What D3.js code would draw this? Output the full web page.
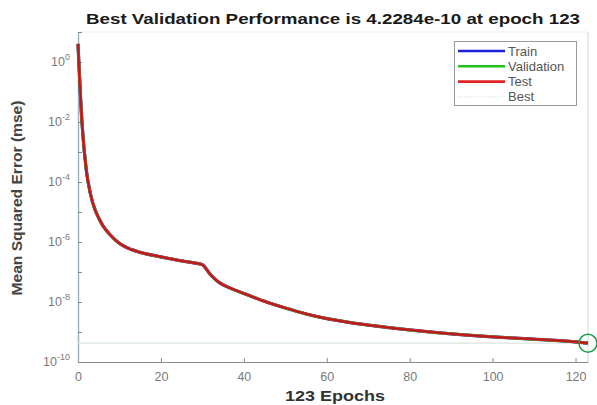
<!DOCTYPE html>
<html>
<head>
<meta charset="utf-8">
<script src="https://cdn.jsdelivr.net/npm/d3@7"></script>
<style>
  body { margin: 0; background: #fff; }
  svg { display: block; font-family: "Liberation Sans", Arial, sans-serif; }
</style>
</head>
<body>
<svg id="chart" width="597" height="405"></svg>
<script>
// Training record: mean squared error per epoch (sampled epochs)
const epochs   = [0, 1, 2, 3, 4, 5, 6, 8, 10, 12, 15, 20, 25, 29, 30, 32, 34, 37, 41, 45, 50, 55, 60, 70, 80, 90, 100, 110, 120, 123];
const trainMse = [4.0, 8e-3, 2.5e-4, 4e-5, 1.3e-5, 6.3e-6, 3.5e-6, 1.6e-6, 9e-7, 6.3e-7, 4.5e-7, 3.2e-7, 2.35e-7, 1.9e-7, 1.75e-7, 8e-8, 4.5e-8, 2.8e-8, 1.7e-8, 1.05e-8, 6.3e-9, 4.0e-9, 2.8e-9, 1.7e-9, 1.17e-9, 8.7e-10, 6.9e-10, 5.75e-10, 4.7e-10, 4.23e-10];
const valMse   = [4.0, 8e-3, 2.5e-4, 4e-5, 1.3e-5, 6.3e-6, 3.5e-6, 1.6e-6, 9e-7, 6.3e-7, 4.5e-7, 3.2e-7, 2.35e-7, 1.9e-7, 1.75e-7, 8e-8, 4.5e-8, 2.8e-8, 1.7e-8, 1.05e-8, 6.3e-9, 4.0e-9, 2.8e-9, 1.7e-9, 1.17e-9, 8.7e-10, 6.9e-10, 5.75e-10, 4.7e-10, 4.2284e-10];
const testMse  = [4.0, 8e-3, 2.5e-4, 4e-5, 1.3e-5, 6.3e-6, 3.5e-6, 1.6e-6, 9e-7, 6.3e-7, 4.5e-7, 3.2e-7, 2.35e-7, 1.9e-7, 1.75e-7, 8e-8, 4.5e-8, 2.8e-8, 1.7e-8, 1.05e-8, 6.3e-9, 4.0e-9, 2.8e-9, 1.7e-9, 1.17e-9, 8.7e-10, 6.9e-10, 5.75e-10, 4.7e-10, 4.23e-10];

const bestEpoch = 123;
const bestPerf = 4.2284e-10;

const xTicks = [0, 20, 40, 60, 80, 100, 120];
const yTickExps = [0, -2, -4, -6, -8, -10];
const yMinorExps = [1, 0, -1, -2, -3, -4, -5, -6, -7, -8, -9, -10];

const legendLabels = ["Train", "Validation", "Test", "Best"];
const legendColors = ["#1f1fe0", "#1fc21f", "#e02424", "#cfe8cf"];

const titleText = "Best Validation Performance is 4.2284e-10 at epoch 123";
const xLabelText = "123 Epochs";
const yLabelText = "Mean Squared Error  (mse)";

const svg = d3.select("#chart");
const m = { left: 78, right: 588, top: 32, bottom: 362 };

const x = d3.scaleLinear().domain([0, 123]).range([m.left, m.right]);
const y = d3.scaleLog().domain([1e-10, 10]).range([m.bottom, m.top]);

const axisColor = "#8a8a8a";
const tickTextColor = "#7a7a7a";

// axes box
svg.append("line").attr("x1", m.left).attr("x2", m.right).attr("y1", m.top).attr("y2", m.top)
  .attr("stroke", "#ececec").attr("stroke-width", 1);
svg.append("line").attr("x1", m.right).attr("x2", m.right).attr("y1", m.top).attr("y2", m.bottom)
  .attr("stroke", "#dcdcdc").attr("stroke-width", 1);

// x axis (ticks point inward)
const xAxis = d3.axisBottom(x).tickValues(xTicks).tickSizeInner(-4).tickSizeOuter(0).tickPadding(10);
const gx = svg.append("g").attr("transform", `translate(0,${m.bottom})`).call(xAxis);
gx.select(".domain").attr("stroke", axisColor).attr("stroke-width", 1.2);
gx.selectAll(".tick line").attr("stroke", axisColor);
gx.selectAll(".tick text").attr("fill", tickTextColor).attr("font-size", 12.5)
  .attr("font-family", "Liberation Sans, Arial, sans-serif");

// y axis: major decade labels, minor ticks every decade
const yAxis = d3.axisLeft(y).tickValues(yMinorExps.map(e => Math.pow(10, e)))
  .tickSizeInner(-4).tickSizeOuter(0).tickFormat("");
const gy = svg.append("g").attr("transform", `translate(${m.left},0)`).call(yAxis);
gy.select(".domain").attr("stroke", "#9fb3bf").attr("stroke-width", 1.5);
gy.selectAll(".tick line").attr("stroke", axisColor);

const yLabels = svg.append("g");
yTickExps.forEach(e => {
  const t = yLabels.append("text")
    .attr("x", m.left - 8)
    .attr("y", y(Math.pow(10, e)) + 4)
    .attr("text-anchor", "end")
    .attr("fill", tickTextColor)
    .attr("font-size", 12.5);
  t.append("tspan").text("10");
  t.append("tspan").attr("dy", -6).attr("font-size", 9).text(String(e));
});

// best performance reference lines
svg.append("line")
  .attr("x1", x(0)).attr("x2", x(bestEpoch))
  .attr("y1", y(bestPerf)).attr("y2", y(bestPerf))
  .attr("stroke", "#d8e4dc").attr("stroke-width", 1.2);
svg.append("line")
  .attr("x1", x(bestEpoch)).attr("x2", x(bestEpoch))
  .attr("y1", y(10)).attr("y2", y(1e-10))
  .attr("stroke", "#e4ece6").attr("stroke-width", 1);

// performance curves
const line = (vals) => d3.line()
  .x((d, i) => x(epochs[i]))
  .y(d => y(d))
  .curve(d3.curveMonotoneX)(vals);

svg.append("path").attr("d", line(trainMse)).attr("fill", "none")
  .attr("stroke", legendColors[0]).attr("stroke-width", 3.2);
svg.append("path").attr("d", line(valMse)).attr("fill", "none")
  .attr("stroke", legendColors[1]).attr("stroke-width", 3.0);
svg.append("path").attr("d", line(testMse)).attr("fill", "none")
  .attr("stroke", "#e02020").attr("stroke-width", 2.8);
svg.append("path").attr("d", line(testMse)).attr("fill", "none")
  .attr("stroke", "#7a1616").attr("stroke-width", 1).attr("opacity", 0.6);

// best point marker
svg.append("circle")
  .attr("cx", x(bestEpoch)).attr("cy", y(bestPerf)).attr("r", 9)
  .attr("fill", "none").attr("stroke", "#1f9e4a").attr("stroke-width", 1.5);

// legend
const lg = svg.append("g");
lg.append("rect").attr("x", 454.5).attr("y", 41.5).attr("width", 122).attr("height", 64)
  .attr("fill", "#fff").attr("stroke", "#9a9a9a").attr("stroke-width", 1);
legendLabels.forEach((lab, i) => {
  const yy = 51 + i * 15.3;
  lg.append("line").attr("x1", 458).attr("x2", 505).attr("y1", yy).attr("y2", yy)
    .attr("stroke", legendColors[i]).attr("stroke-width", i === 3 ? 1 : 2.6)
    .attr("stroke-dasharray", i === 3 ? "1.5,1.5" : null);
  lg.append("text").attr("x", 508).attr("y", yy + 4.5).text(lab)
    .attr("fill", "#555").attr("font-size", 13);
});

// title and axis labels
svg.append("text").attr("x", 333).attr("y", 24).attr("text-anchor", "middle")
  .attr("font-weight", "bold").attr("font-size", 15).attr("fill", "#1a1a1a")
  .attr("textLength", 494).attr("lengthAdjust", "spacingAndGlyphs")
  .text(titleText);
svg.append("text").attr("x", 335).attr("y", 401).attr("text-anchor", "middle")
  .attr("font-weight", "bold").attr("font-size", 15).attr("fill", "#333")
  .attr("textLength", 100).attr("lengthAdjust", "spacingAndGlyphs")
  .text(xLabelText);
svg.append("text").attr("transform", "translate(22,198) rotate(-90)").attr("text-anchor", "middle")
  .attr("font-weight", "bold").attr("font-size", 14).attr("fill", "#444")
  .attr("textLength", 195).attr("lengthAdjust", "spacingAndGlyphs")
  .text(yLabelText);
</script>
</body>
</html>
